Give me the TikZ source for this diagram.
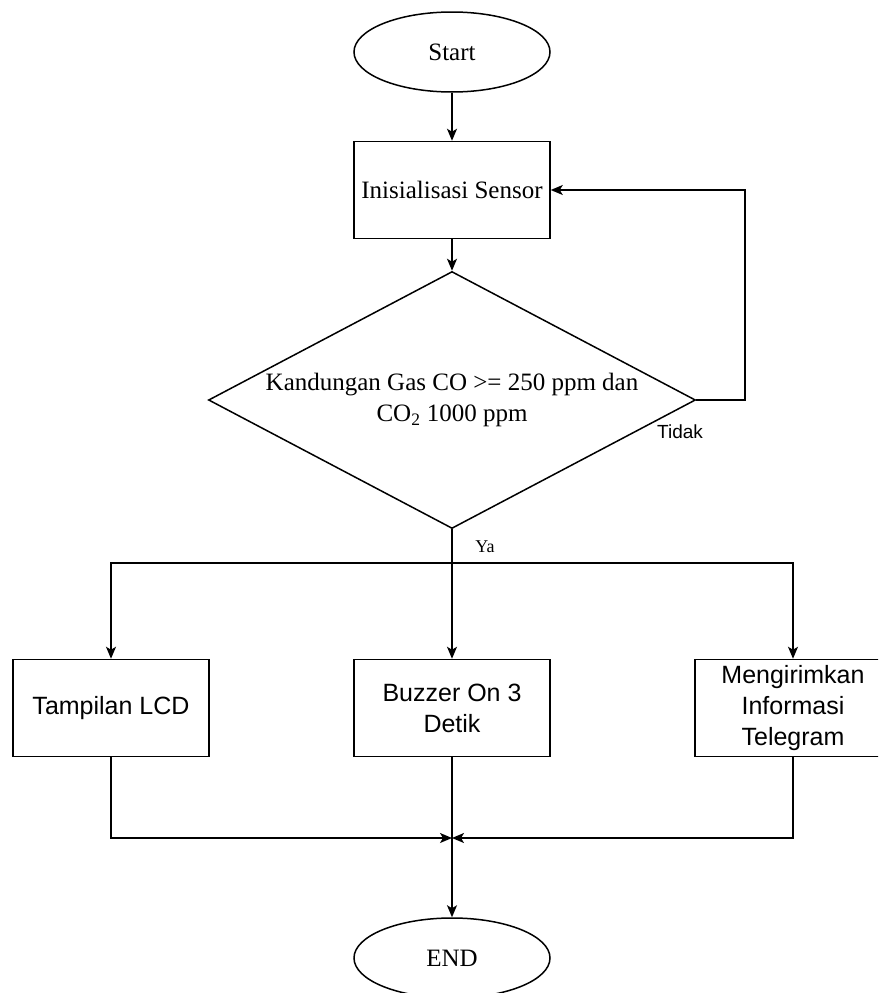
\documentclass[tikz,border=0pt]{standalone}
\usepackage{fontspec}
\setmainfont{Liberation Serif}
\newfontfamily\sansfont{Liberation Sans}
\usetikzlibrary{shapes.geometric,arrows.meta}
\tikzset{
	terminal/.style = {draw, ellipse, minimum width = 196pt, minimum height = 80pt,
		font = \fontsize{25}{31}\selectfont},
	proses/.style   = {draw, rectangle, minimum width = 196pt, minimum height = 97pt,
		align = center, font = \fontsize{25}{31}\selectfont},
	aksi/.style     = {proses, font = \sansfont\fontsize{25}{31}\selectfont},
	kondisi/.style  = {draw, diamond, minimum width = 487pt, minimum height = 257pt,
		inner sep = 0pt},
	ket/.style      = {font = \fontsize{18}{21}\selectfont}
}
\newcommand{\syarat}{Kandungan Gas CO >= 250 ppm dan\\ CO\textsubscript{2} 1000 ppm}

\begin{document}
\begin{tikzpicture}[x=1pt, y=-1pt, line width=1.5pt, >={Stealth[length=12pt, width=10pt, inset=3pt]}]
	\useasboundingbox (0,0) rectangle (878,993);
	\clip (0,0) rectangle (878,993);

	\draw
	node at (452,52) [terminal] (start) {Start}
	node at (452,190) [proses] (init) {Inisialisasi Sensor}
	node at (452,400) [kondisi, label={[align=center, font=\fontsize{25}{31}\selectfont]center:\syarat}] (cek) {}
	node at (111,708) [aksi] (lcd) {Tampilan LCD}
	node at (452,708) [aksi] (buzzer) {Buzzer On 3\\Detik}
	node at (793,708) [aksi] (tele) {Mengirimkan\\Informasi\\Telegram}
	node at (452,958) [terminal] (end) {END};

	\coordinate (balik) at (745,400);
	\coordinate (cabang) at (452,563);
	\coordinate (gabung) at (452,838);

	\draw[->] (start) -- (init);
	\draw[->] (init) -- (cek);
	\draw[->] (cek.east) -- (balik) |- (init.east);
	\draw (cek.south) -- (cabang);
	\draw[->] (cabang) -| (lcd);
	\draw[->] (cabang) -- (buzzer);
	\draw[->] (cabang) -| (tele);
	\draw[->] (lcd) |- (gabung);
	\draw[->] (tele) |- (gabung);
	\draw[->] (buzzer) -- (end);

	\draw
	node at (680,432) [ket, font=\sansfont\fontsize{19}{22}\selectfont] (tidak) {Tidak}
	node at (485,547) [ket] (ya) {Ya};

\end{tikzpicture}
\end{document}
